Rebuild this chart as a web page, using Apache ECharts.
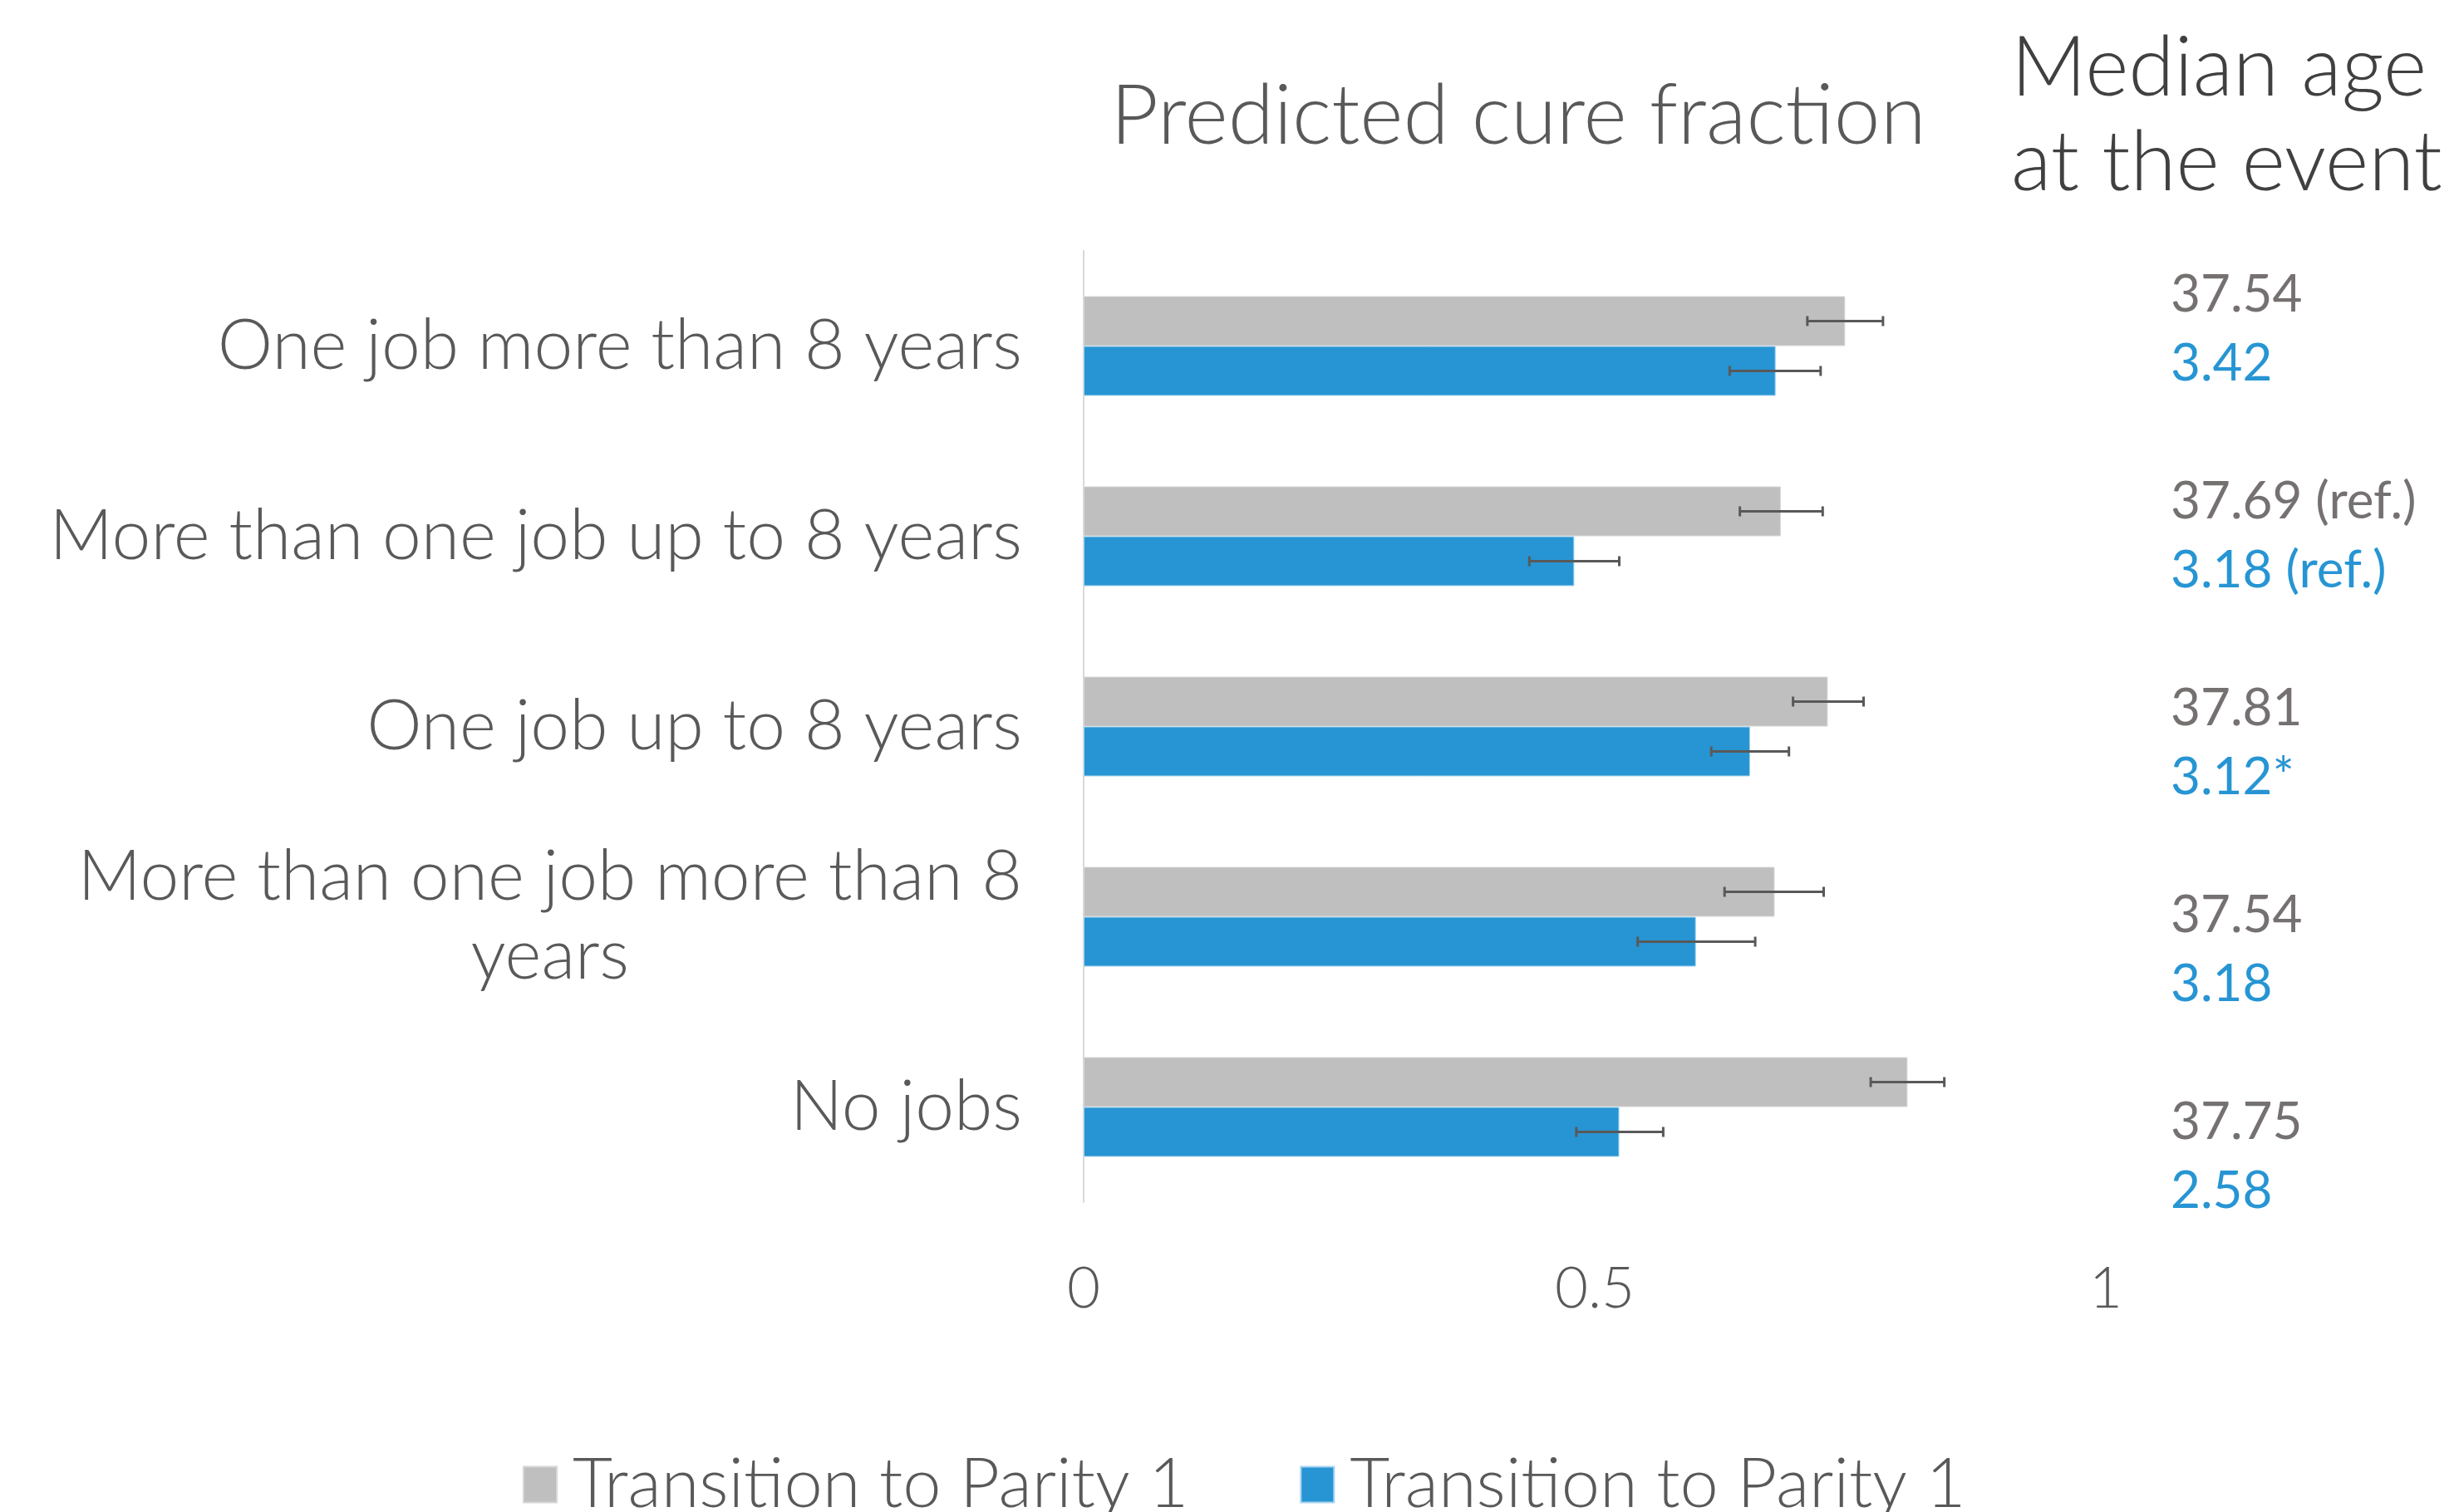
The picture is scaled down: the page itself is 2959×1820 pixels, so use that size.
<!DOCTYPE html>
<html>
<head>
<meta charset="utf-8">
<style>
  html, body { margin: 0; padding: 0; background: #ffffff; }
  #chart { width: 2959px; height: 1820px; }
</style>
<script src="https://cdn.jsdelivr.net/npm/echarts@6/dist/echarts.min.js"></script>
</head>
<body>
<div id="chart"></div>
<script>
// ---------- data ----------
const categories = [
  'One job more than 8 years',
  'More than one job up to 8 years',
  'One job up to 8 years',
  'More than one job more than 8 years',
  'No jobs'
];
const grayValues = [0.745, 0.682, 0.728, 0.676, 0.806];
const grayLow    = [0.708, 0.642, 0.694, 0.627, 0.770];
const grayHigh   = [0.782, 0.723, 0.763, 0.724, 0.842];
const blueValues = [0.677, 0.480, 0.652, 0.599, 0.524];
const blueLow    = [0.632, 0.436, 0.614, 0.542, 0.482];
const blueHigh   = [0.721, 0.524, 0.690, 0.657, 0.567];
const medianAgeGray = ['37.54', '37.69 (ref.)', '37.81', '37.54', '37.75'];
const medianAgeBlue = ['3.42', '3.18 (ref.)', '3.12*', '3.18', '2.58'];
const xTicks = [0, 0.5, 1];
const legendLabels = ['Transition to Parity 1', 'Transition to Parity 1'];
const chartTitle = 'Predicted cure fraction';
const sideTitle = ['Median age', 'at the event'];

// ---------- style ----------
const FONT = 'Lato';
const GRAY = '#bfbfbf';
const BLUE = '#2795d3';
const TEXT = '#595959';
const BAR_W = 60;

const chart = echarts.init(document.getElementById('chart'), null, { renderer: 'canvas' });

function errorSeries(name, low, high, offsetSign) {
  return {
    type: 'custom',
    name: name,
    coordinateSystem: 'cartesian2d',
    z: 5,
    silent: true,
    encode: { y: 0, x: [1, 2] },
    data: low.map((l, i) => [i, l, high[i]]),
    renderItem: function (params, api) {
      const cat = api.value(0);
      const p1 = api.coord([api.value(1), cat]);
      const p2 = api.coord([api.value(2), cat]);
      const y = p1[1] + offsetSign * BAR_W / 2;
      const cap = 6;
      const st = { stroke: '#595959', lineWidth: 3 };
      return {
        type: 'group',
        children: [
          { type: 'line', shape: { x1: p1[0], y1: y, x2: p2[0], y2: y }, style: st },
          { type: 'line', shape: { x1: p1[0], y1: y - cap, x2: p1[0], y2: y + cap }, style: st },
          { type: 'line', shape: { x1: p2[0], y1: y - cap, x2: p2[0], y2: y + cap }, style: st }
        ]
      };
    }
  };
}

// titles and side annotations (median age)
const graphics = [];
graphics.push({
  type: 'text', x: 1827, y: 141,
  style: { text: chartTitle, font: '300 100px ' + FONT, fill: TEXT, align: 'center', verticalAlign: 'middle' }
});
graphics.push({
  type: 'text', x: 2420, y: 83,
  style: { text: sideTitle[0], font: '300 100px ' + FONT, fill: '#404040', align: 'left', verticalAlign: 'middle' }
});
graphics.push({
  type: 'text', x: 2420, y: 197,
  style: { text: sideTitle[1], font: '300 100px ' + FONT, fill: '#404040', align: 'left', verticalAlign: 'middle' }
});
const AGE_Y0 = 355, AGE_STEP = 249, AGE_DY = 83;
medianAgeGray.forEach((t, i) => {
  graphics.push({
    type: 'text', x: 2612, y: AGE_Y0 + i * AGE_STEP,
    style: { text: t, font: '400 62px ' + FONT, fill: '#767171', align: 'left', verticalAlign: 'middle' }
  });
  graphics.push({
    type: 'text', x: 2612, y: AGE_Y0 + i * AGE_STEP + AGE_DY,
    style: { text: medianAgeBlue[i], font: '400 62px ' + FONT, fill: BLUE, align: 'left', verticalAlign: 'middle' }
  });
});

const option = {
  animation: false,
  backgroundColor: '#ffffff',
  textStyle: { fontFamily: FONT },
  grid: { left: 1304, right: 425, top: 302, bottom: 373, containLabel: false, outerBoundsMode: 'none' },
  legend: {
    left: 629, top: 1742,
    itemWidth: 40, itemHeight: 43, itemGap: 134,
    padding: 0,
    icon: 'rect',
    selectedMode: false,
    data: ['gray', 'blue'],
    formatter: function (name) { return name === 'gray' ? legendLabels[0] : legendLabels[1]; },
    textStyle: { fontFamily: FONT, fontWeight: 300, fontSize: 83, color: TEXT, padding: [0, 0, 0, 14], lineHeight: 90 }
  },
  xAxis: {
    type: 'value',
    min: 0, max: 1, interval: 0.5,
    axisLine: { show: false },
    axisTick: { show: false },
    splitLine: { show: false },
    axisLabel: {
      fontFamily: FONT, fontWeight: 300, fontSize: 69, color: TEXT, margin: 70,
      formatter: function (v) { return xTicks.indexOf(v) >= 0 ? String(v) : ''; }
    }
  },
  yAxis: {
    type: 'category',
    inverse: true,
    data: categories,
    axisLine: { show: true, lineStyle: { color: '#d9d9d9', width: 2 } },
    axisTick: { show: false },
    splitLine: { show: false },
    axisLabel: {
      margin: 74,
      fontFamily: FONT, fontWeight: 300, fontSize: 84, color: TEXT,
      formatter: function (v) {
        if (v === 'More than one job more than 8 years') {
          return '{c|More than one job more than 8}\n{c|years}';
        }
        return '{c|' + v + '}';
      },
      rich: {
        c: { fontFamily: FONT, fontWeight: 300, fontSize: 84, color: TEXT, align: 'center', lineHeight: 95 }
      }
    }
  },
  series: [
    {
      type: 'bar', name: 'gray', data: grayValues, barWidth: BAR_W, barGap: '0%',
      itemStyle: { color: GRAY, borderColor: '#d6d6d6', borderWidth: 1 }
    },
    {
      type: 'bar', name: 'blue', data: blueValues, barWidth: BAR_W, barGap: '0%',
      itemStyle: { color: BLUE, borderColor: '#a9d4ef', borderWidth: 1 }
    },
    errorSeries('grayErr', grayLow, grayHigh, -1),
    errorSeries('blueErr', blueLow, blueHigh, 1)
  ],
  graphic: graphics
};

chart.setOption(option);
</script>
</body>
</html>
